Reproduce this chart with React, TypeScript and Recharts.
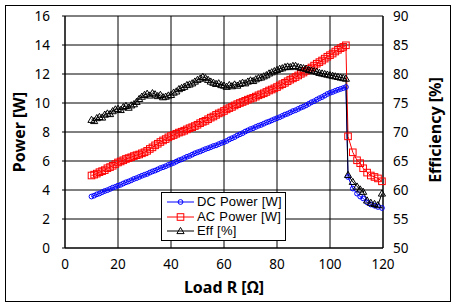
import React from 'react'
import {
  ComposedChart, Line, XAxis, YAxis, CartesianGrid, Legend,
} from 'recharts'

// load resistance sweep [Ω]
const loadR = [
  10, 11, 12, 13, 14, 15, 16, 17, 18, 19,
  20, 21, 22, 23, 24, 25, 26, 27, 28, 29,
  30, 31, 32, 33, 34, 35, 36, 37, 38, 39,
  40, 41, 42, 43, 44, 45, 46, 47, 48, 49,
  50, 51, 52, 53, 54, 55, 56, 57, 58, 59,
  60, 61, 62, 63, 64, 65, 66, 67, 68, 69,
  70, 71, 72, 73, 74, 75, 76, 77, 78, 79,
  80, 81, 82, 83, 84, 85, 86, 87, 88, 89,
  90, 91, 92, 93, 94, 95, 96, 97, 98, 99,
  100, 101, 102, 103, 104, 105, 106,
  106.8, 108.6, 110.2, 111.4, 112.5, 114, 115.4, 116.8, 118.1, 119.6,
]

const dcPower = [
  3.55, 3.61, 3.70, 3.76, 3.85, 3.93, 3.99, 4.07, 4.16, 4.22,
  4.30, 4.36, 4.45, 4.53, 4.59, 4.67, 4.76, 4.82, 4.90, 4.98,
  5.05, 5.11, 5.20, 5.28, 5.34, 5.42, 5.51, 5.57, 5.64, 5.73,
  5.80, 5.87, 5.96, 6.05, 6.11, 6.20, 6.29, 6.35, 6.44, 6.53,
  6.60, 6.66, 6.74, 6.82, 6.88, 6.95, 7.03, 7.08, 7.16, 7.24,
  7.30, 7.38, 7.49, 7.57, 7.65, 7.76, 7.84, 7.92, 8.03, 8.11,
  8.20, 8.26, 8.35, 8.43, 8.49, 8.57, 8.66, 8.72, 8.80, 8.88,
  8.95, 9.02, 9.11, 9.20, 9.26, 9.35, 9.44, 9.50, 9.59, 9.68,
  9.75, 9.84, 9.94, 10.05, 10.12, 10.23, 10.33, 10.41, 10.51, 10.62,
  10.70, 10.76, 10.84, 10.91, 10.97, 11.03, 11.10,
  4.90, 4.10, 3.75, 3.55, 3.42, 3.15, 3.00, 2.92, 2.83, 2.76,
]

const acPower = [
  5.00, 5.06, 5.13, 5.23, 5.30, 5.37, 5.50, 5.58, 5.67, 5.79,
  5.90, 5.97, 6.05, 6.14, 6.20, 6.26, 6.34, 6.40, 6.45, 6.53,
  6.60, 6.70, 6.83, 6.94, 7.08, 7.19, 7.31, 7.42, 7.51, 7.63,
  7.72, 7.79, 7.88, 7.96, 8.02, 8.09, 8.18, 8.26, 8.33, 8.41,
  8.50, 8.61, 8.70, 8.77, 8.88, 8.99, 9.07, 9.18, 9.28, 9.35,
  9.45, 9.56, 9.65, 9.73, 9.83, 9.92, 10.00, 10.07, 10.15, 10.23,
  10.30, 10.36, 10.44, 10.53, 10.60, 10.67, 10.76, 10.86, 10.93, 11.01,
  11.10, 11.21, 11.30, 11.39, 11.50, 11.61, 11.70, 11.79, 11.90, 12.01,
  12.10, 12.22, 12.35, 12.45, 12.58, 12.71, 12.82, 12.93, 13.06, 13.19,
  13.30, 13.41, 13.55, 13.67, 13.78, 13.87, 13.98,
  7.70, 6.60, 6.05, 5.85, 5.50, 5.20, 5.00, 4.90, 4.80, 4.60,
]

const efficiency = [
  72.1, 71.9, 72.4, 72.6, 72.5, 73.0, 73.2, 73.1, 73.6, 73.9,
  74.0, 73.8, 74.3, 74.5, 74.2, 74.6, 74.8, 75.2, 75.7, 76.1,
  76.4, 76.6, 76.3, 76.7, 76.5, 76.2, 76.4, 76.0, 76.1, 76.3,
  76.4, 76.8, 77.0, 77.4, 77.6, 77.8, 78.1, 78.2, 78.4, 78.7,
  79.0, 79.2, 79.5, 79.3, 79.0, 78.7, 78.5, 78.3, 78.4, 78.1,
  78.0, 77.8, 78.1, 77.9, 78.2, 78.0, 78.3, 78.5, 78.4, 78.7,
  78.9, 78.8, 79.1, 79.3, 79.4, 79.6, 79.8, 80.1, 80.3, 80.5,
  80.7, 80.9, 81.0, 81.2, 81.3, 81.2, 81.4, 81.4, 81.2, 81.1,
  81.0, 80.9, 80.7, 80.6, 80.5, 80.4, 80.2, 80.1, 80.0, 79.9,
  79.8, 79.7, 79.6, 79.5, 79.4, 79.3, 79.2,
  62.6, 61.4, 60.6, 60.1, 59.7, 58.2, 57.8, 57.6, 57.4, 59.4,
]

const xTicks = [0, 20, 40, 60, 80, 100, 120]
const powerTicks = [0, 2, 4, 6, 8, 10, 12, 14, 16]
const effTicks = [50, 55, 60, 65, 70, 75, 80, 85, 90]

const data = loadR.map((r, i) => ({
  r,
  dc: dcPower[i],
  ac: acPower[i],
  eff: efficiency[i],
}))

const FONT = '"Noto Sans", "DejaVu Sans", sans-serif'
const LEGEND_FONT = '"Liberation Sans", Arial, sans-serif'

type DotProps = { cx?: number; cy?: number; index?: number; stroke?: string }

function CircleDot({ cx, cy, index }: DotProps) {
  if (cx == null || cy == null) return null
  return <circle key={index} cx={cx} cy={cy} r={2.4} fill="none" stroke="#0000ff" strokeWidth={1} />
}

function SquareDot({ cx, cy, index }: DotProps) {
  if (cx == null || cy == null) return null
  return <rect key={index} x={cx - 3.3} y={cy - 3.3} width={6.6} height={6.6} fill="none" stroke="#ff0000" strokeWidth={1} />
}

function TriangleDot({ cx, cy, index }: DotProps) {
  if (cx == null || cy == null) return null
  const pts = `${cx},${cy - 3.6} ${cx + 3.6},${cy + 2.6} ${cx - 3.6},${cy + 2.6}`
  return <polygon key={index} points={pts} fill="none" stroke="#000" strokeWidth={1} />
}

const SERIES = [
  { key: 'dc', label: 'DC Power [W]', color: '#0000ff', dot: CircleDot, axis: 'power' },
  { key: 'ac', label: 'AC Power [W]', color: '#ff0000', dot: SquareDot, axis: 'power' },
  { key: 'eff', label: 'Eff [%]', color: '#000000', dot: TriangleDot, axis: 'eff' },
]

function LegendBox() {
  return (
    <div style={{
      width: 125, height: 49, boxSizing: 'border-box', border: '1px solid #000',
      background: '#fff', fontFamily: LEGEND_FONT, fontSize: 13, paddingTop: 2,
    }}>
      {SERIES.map(s => {
        const Dot = s.dot
        return (
          <div key={s.key} style={{ display: 'flex', alignItems: 'center', height: 14.5, lineHeight: '14px' }}>
            <svg width={35} height={14} style={{ flex: 'none' }}>
              <line x1={5} x2={32} y1={7} y2={7} stroke={s.color} strokeWidth={1} />
              <Dot cx={18.5} cy={7} />
            </svg>
            <span style={{ color: '#000', whiteSpace: 'nowrap', letterSpacing: 0.2 }}>{s.label}</span>
          </div>
        )
      })}
    </div>
  )
}

type TitleProps = { viewBox?: { x: number; y: number; width: number; height: number }; text: string; kind: 'left' | 'right' | 'bottom' }

function AxisTitle({ viewBox, text, kind }: TitleProps) {
  if (!viewBox) return null
  const { x, y, width, height } = viewBox
  let cx = x + width / 2
  let cy = y + height / 2
  let rotate = 0
  if (kind === 'left') { cx = x + 19; rotate = -90 }
  if (kind === 'right') { cx = x + 52; cy -= 2; rotate = -90 }
  if (kind === 'bottom') { cy = y + 39 }
  return (
    <text
      x={cx} y={cy}
      textAnchor="middle" dominantBaseline="central"
      transform={rotate ? `rotate(${rotate}, ${cx}, ${cy})` : undefined}
      fontFamily={FONT} fontSize={16} fontWeight="bold" fill="#000"
    >
      {text}
    </text>
  )
}

const tickStyle = { fontSize: 13.5, fill: '#000', fontFamily: FONT }

export default function App() {
  return (
    <div style={{ position: 'absolute', left: 0, top: 0, width: 458, height: 307, background: '#fff' }}>
      <div style={{
        position: 'absolute', left: 5, top: 5, width: 446, height: 297,
        boxSizing: 'border-box', border: '1px solid #000',
      }} />
      <ComposedChart
        width={458}
        height={307}
        data={data}
        margin={{ top: 16, right: 0, left: 0, bottom: 0 }}
        style={{ position: 'absolute', left: 0, top: 0 }}
      >
        <CartesianGrid stroke="#000" strokeWidth={1} yAxisId="power" />
        <XAxis
          dataKey="r" type="number" domain={[0, 120]} ticks={xTicks} interval={0}
          height={59} tickLine={false} tickSize={0} tickMargin={11}
          axisLine={{ stroke: '#000' }} tick={tickStyle}
          label={<AxisTitle text="Load R [Ω]" kind="bottom" />}
        />
        <YAxis
          yAxisId="power" domain={[0, 16]} ticks={powerTicks} interval={0}
          width={65} tickSize={3} tickMargin={12}
          tickLine={{ stroke: '#000' }} axisLine={{ stroke: '#000' }} tick={tickStyle}
          label={<AxisTitle text="Power [W]" kind="left" />}
        />
        <YAxis
          yAxisId="eff" orientation="right" domain={[50, 90]} ticks={effTicks} interval={0}
          width={75} tickLine={false} tickSize={0} tickMargin={10}
          axisLine={{ stroke: '#000' }} tick={tickStyle}
          label={<AxisTitle text="Efficiency [%]" kind="right" />}
        />
        <Legend
          layout="vertical" align="center" verticalAlign="middle"
          content={<LegendBox />}
          wrapperStyle={{ left: 161, top: 192, width: 125, height: 49 }}
        />
        {SERIES.map(s => (
          <Line
            key={s.key}
            yAxisId={s.axis}
            type="linear"
            dataKey={s.key}
            name={s.label}
            stroke={s.color}
            strokeWidth={1}
            dot={(p: DotProps) => <s.dot key={p.index} {...p} />}
            activeDot={false}
            isAnimationActive={false}
          />
        ))}
      </ComposedChart>
    </div>
  )
}
